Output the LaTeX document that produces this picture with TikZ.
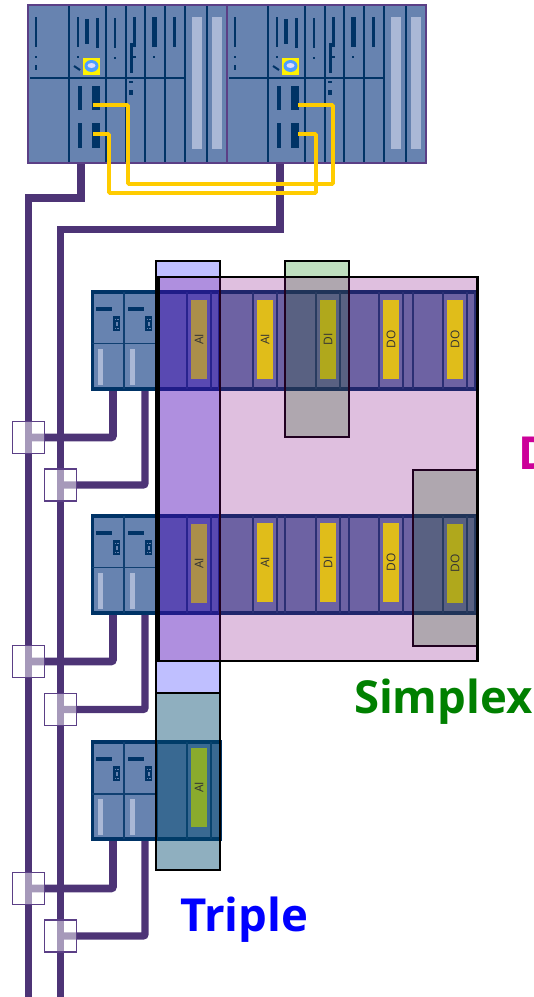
\documentclass[tikz,border=0pt]{standalone}
\usepackage{fontspec}
\setmainfont{Open Sans}
\usetikzlibrary{backgrounds}
\definecolor{rackblue}{HTML}{6783B0}
\definecolor{navy}{HTML}{003366}
\definecolor{barlight}{HTML}{AAB8D6}
\definecolor{buspurple}{HTML}{4D3476}
\definecolor{rimpurple}{HTML}{5B3F86}
\definecolor{wire}{HTML}{FFCC00}
\definecolor{tagplain}{HTML}{E0BD1A}
\definecolor{tagblue}{HTML}{AB8F4A}
\definecolor{taggreen}{HTML}{B0A81C}
\definecolor{tagteal}{HTML}{8AAB2D}
\definecolor{dupmagenta}{HTML}{CC0099}
\definecolor{dupfill}{HTML}{800080}
\definecolor{simgreen}{HTML}{008000}
\tikzset{
  x=1pt,y=-1pt,
  box/.style={rectangle,inner sep=0pt,outer sep=0pt},
  cpurack/.style={box,fill=rackblue,draw=rimpurple,line width=1.5pt,minimum width=199pt,minimum height=158pt},
  iorow/.style={box,fill=rackblue,draw=navy,line width=3.5pt},
  busline/.style={draw=buspurple,line width=7.7pt},
  tapline/.style={draw=buspurple,line width=7.7pt,rounded corners=2pt},
  yellowlink/.style={draw=wire,line width=3.8pt,rounded corners=1pt},
  tapbox/.style={box,draw=rimpurple,line width=1.8pt,fill=white,fill opacity=.5,draw opacity=1,minimum width=32pt,minimum height=32pt},
  divider/.style={draw=navy,line width=2.6pt},
  thinsep/.style={draw=navy!85!rackblue,line width=1.8pt},
  ink/.style={fill=navy},
  lightbar/.style={fill=barlight},
  iotag/.style={box,minimum width=16pt,minimum height=79pt},
  taglabel/.style={box,rotate=90,font=\fontsize{12}{12}\selectfont,text=black!80},
  tripleband/.style={box,draw=black,line width=2pt,fill=blue,fill opacity=.25,draw opacity=1},
  simplexband/.style={box,draw=black,line width=2pt,fill=simgreen,fill opacity=.25,draw opacity=1},
  duplexband/.style={box,draw=black,line width=2.2pt,fill=dupfill,fill opacity=.25,draw opacity=1},
  bigword/.style={anchor=base west,inner sep=0pt,outer sep=0pt,font=\fontsize{45.5}{46}\selectfont\bfseries}
}
\newcommand{\cpuunit}[2]{%
\node[cpurack] (#1) at (#2+127.5,84) {};
\begin{scope}[shift={(#2,0)}]
  \foreach \xx in {69,106,126,145,165,185,207} {\draw[divider] (\xx,6) -- (\xx,162);}
  \draw[divider] (30,78) -- (185,78);
  \fill[lightbar] (192,17) rectangle (202,149);
  \fill[lightbar] (212,17) rectangle (222,149);
  \fill[ink] (35,17) rectangle (37,47);
  \fill[ink] (35,56) rectangle (37,58);
  \fill[ink] (35,65) rectangle (37,70);
  \fill[ink] (77,17) rectangle (79,47);
  \fill[ink] (85,19) rectangle (89,44);
  \fill[ink] (95.5,18) rectangle (98.5,48);
  \fill[ink] (77,56) rectangle (79,58);
  \draw[navy,line width=2pt] (74,66) -- (80,70);
  \fill[yellow] (83,58) rectangle (100,75);
  \fill[blue!55!cyan!70!white] (91.5,66) ellipse [x radius=7pt,y radius=6pt];
  \fill[white!85!blue] (91.5,65.5) ellipse [x radius=4pt,y radius=2.5pt];
  \fill[ink] (114,18) rectangle (116,48);
  \fill[ink] (114,57) rectangle (116,59);
  \fill[ink] (132.5,17) rectangle (135.5,47);
  \fill[ink] (129.5,43) rectangle (132.5,73);
  \fill[ink] (132,56) rectangle (136,58);
  \fill[ink] (129,81) rectangle (133,83);
  \fill[ink] (129,90) rectangle (133,95);
  \fill[ink] (152,17) rectangle (157,47);
  \fill[ink] (153,56) rectangle (155,58);
  \fill[ink] (173,17) rectangle (176,47);
  \fill[ink] (78,86) rectangle (82,110);
  \fill[ink] (92,86) rectangle (100,110);
  \fill[ink] (78,123) rectangle (82,148);
  \fill[ink] (92,123) rectangle (100,148);
\end{scope}}
\newcommand{\headunits}[1]{%
\begin{scope}[shift={(0,#1)}]
  \draw[thinsep] (92,53) -- (157,53);
  \foreach \xx in {0,32} {
    \fill[ink] (96+\xx,16) rectangle (112+\xx,20);
    \fill[ink] (113+\xx,25) rectangle (120+\xx,40);
    \fill[rackblue] (115+\xx,28) rectangle (116.2+\xx,29.2);
    \fill[rackblue] (117.4+\xx,28) rectangle (118.6+\xx,29.2);
    \fill[rackblue] (116.4+\xx,31) rectangle (117.6+\xx,35);
    \fill[rackblue] (115+\xx,37) rectangle (116.2+\xx,38.2);
    \fill[rackblue] (117.4+\xx,37) rectangle (118.6+\xx,38.2);
    \fill[lightbar] (98+\xx,58) rectangle (103+\xx,94);
  }
\end{scope}}
\newcommand{\seplines}[3]{%
  \foreach \xx in {#3} {\draw[thinsep] (\xx,#1) -- (\xx,#2);}}
\begin{document}
\begin{tikzpicture}
\useasboundingbox (0,0) rectangle (534,997);
\clip (0,0) rectangle (534,997);
% CPU racks
\cpuunit{rackA}{0}
\cpuunit{rackB}{199}
\coordinate (busAstart) at (81,163);
\coordinate (busBstart) at (280,163);
\coordinate (busAend) at (28.5,997);
\coordinate (busBend) at (60.5,997);
\coordinate (portA1) at (93,105);
\coordinate (portA2) at (93,134);
\coordinate (portB1) at (298,105);
\coordinate (portB2) at (298,134);
% I/O rows
\node[iorow,minimum width=384pt,minimum height=97pt] (row1) at (284.5,340.5) {};
\node[iorow,minimum width=384pt,minimum height=97pt] (row2) at (284.5,564.5) {};
\node[iorow,minimum width=128pt,minimum height=97pt] (row3) at (156.5,790.5) {};
\seplines{292}{389}{124,157,187,211,219,253,277,285,316,340,349,379,403,413,443,467,475}
\seplines{516}{613}{124,157,187,211,219,253,277,285,316,340,349,379,403,413,443,467,475}
\seplines{742}{839}{124,157,187,211}
\headunits{290.5}
\headunits{514.5}
\headunits{741}
% ports of the head modules
\coordinate (s1a) at (113,390); \coordinate (s1b) at (145,390);
\coordinate (s2a) at (113,614); \coordinate (s2b) at (145,614);
\coordinate (s3a) at (113,840); \coordinate (s3b) at (145,840);
% tap boxes on the buses
\node[tapbox] (q1a) at (28.5,437.5) {};
\node[tapbox] (q1b) at (60.5,485) {};
\node[tapbox] (q2a) at (28.5,661.5) {};
\node[tapbox] (q2b) at (60.5,709.5) {};
\node[tapbox] (q3a) at (28.5,888.5) {};
\node[tapbox] (q3b) at (60.5,936) {};
\begin{pgfonlayer}{background}
  \draw[busline] (busAstart) -- ++(0,35) -| (busAend);
  \draw[busline,line width=7.3pt] (busBstart) -- ++(0,66.5) -| (busBend);
  \draw[tapline] (s1a) |- (q1a.center);
  \draw[tapline,line width=7.3pt] (s1b) |- (q1b.center);
  \draw[tapline] (s2a) |- (q2a.center);
  \draw[tapline,line width=7.3pt] (s2b) |- (q2b.center);
  \draw[tapline] (s3a) |- (q3a.center);
  \draw[tapline,line width=7.3pt] (s3b) |- (q3b.center);
\end{pgfonlayer}
% redundancy links
\draw[yellowlink] (portA1) -| (128,184) -| (333,105) -- (portB1);
\draw[yellowlink] (portA2) -| (109,193) -| (316,134) -- (portB2);
% bands
\node[tripleband,minimum width=64pt,minimum height=609pt] (bandT) at (188,565.5) {};
\node[simplexband,minimum width=64pt,minimum height=176pt] (bandS1) at (316.5,349) {};
\node[simplexband,minimum width=64pt,minimum height=176pt] (bandS2) at (444.5,557.5) {};
\node[simplexband,minimum width=64pt,minimum height=177pt] (bandS3) at (188,781.5) {};
\node[duplexband,minimum width=319pt,minimum height=384pt] (bandD) at (318,469) {};
% tags row 1
\node[iotag,fill=tagblue] (t11) at (199,339.5) {}; \node[taglabel] at (t11) {AI};
\node[iotag,fill=tagplain] (t12) at (265,339.5) {}; \node[taglabel] at (t12) {AI};
\node[iotag,fill=taggreen] (t13) at (328,339.5) {}; \node[taglabel] at (t13) {DI};
\node[iotag,fill=tagplain] (t14) at (391,339.5) {}; \node[taglabel] at (t14) {DO};
\node[iotag,fill=tagplain] (t15) at (455,339.5) {}; \node[taglabel] at (t15) {DO};
% tags row 2
\node[iotag,fill=tagblue] (t21) at (199,563.5) {}; \node[taglabel] at (t21) {AI};
\node[iotag,fill=tagplain] (t22) at (265,562.5) {}; \node[taglabel] at (t22) {AI};
\node[iotag,fill=tagplain] (t23) at (328,562.5) {}; \node[taglabel] at (t23) {DI};
\node[iotag,fill=tagplain] (t24) at (391,562.5) {}; \node[taglabel] at (t24) {DO};
\node[iotag,fill=taggreen] (t25) at (455,563.5) {}; \node[taglabel] at (t25) {DO};
% tag row 3
\node[iotag,fill=tagteal] (t31) at (199,787.5) {}; \node[taglabel] at (t31) {AI};
% captions
\node[bigword,text=simgreen] (simplex) at (354,713) {Simplex};
\node[bigword,text=blue] (triple) at (180,931) {Triple};
\node[bigword,text=dupmagenta] (duplex) at (518,469) {D};
\end{tikzpicture}
\end{document}
